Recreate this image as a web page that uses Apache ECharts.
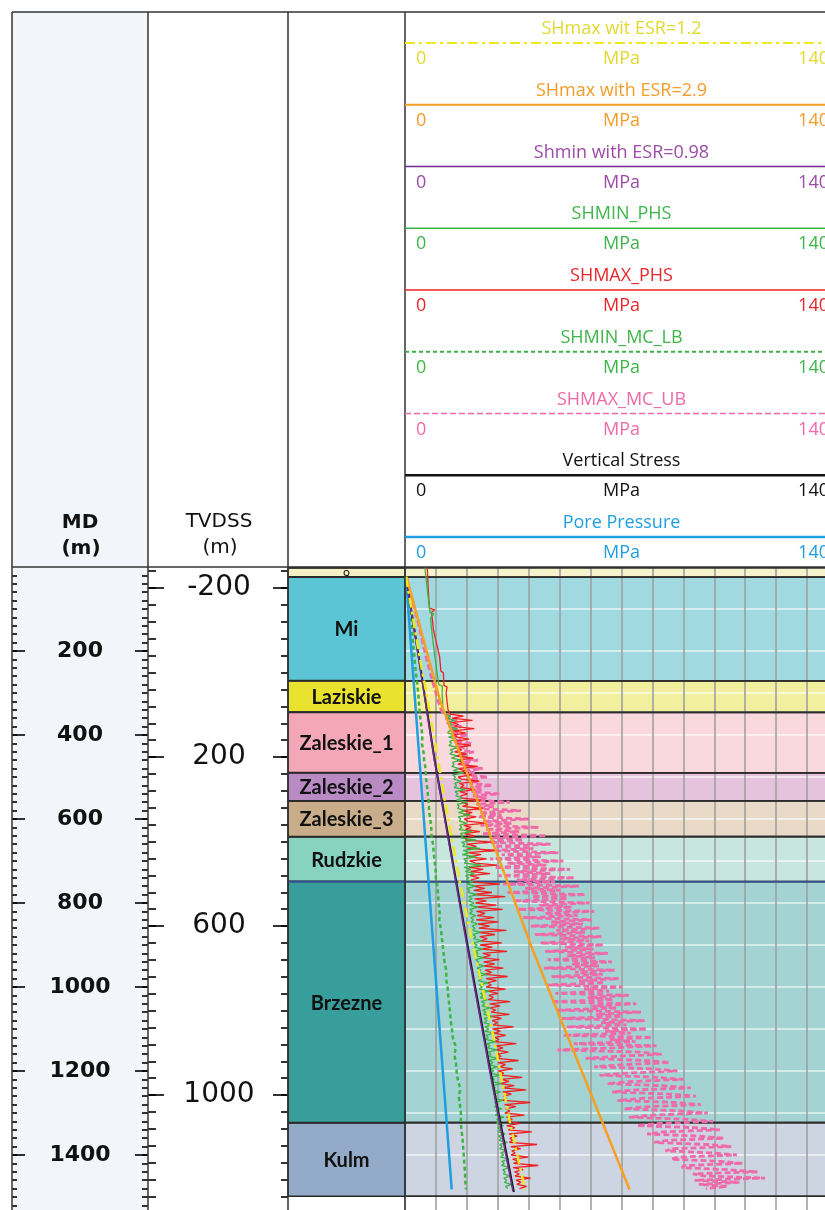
<!DOCTYPE html>
<html>
<head>
<meta charset="utf-8">
<script src="https://cdn.jsdelivr.net/npm/echarts@6/dist/echarts.min.js"></script>
<style>
  html, body { margin: 0; padding: 0; background: #ffffff; }
  #chart { width: 825px; height: 1210px; }
</style>
</head>
<body>
<div id="chart"></div>
<script>
// ---------- depth scales ----------
const MD_RANGE = [0, 1531];
const TVDSS_RANGE = [-250, 1272];
const MD_LABELS = [200, 400, 600, 800, 1000, 1200, 1400];
const TVDSS_LABELS = [-200, 200, 600, 1000];
const MD_MINOR_STEP = 20;
const TVDSS_MINOR_STEP = 40;

// ---------- formations (MD, m) ----------
const FORMATION_NAMES = ['Q', 'Mi', 'Laziskie', 'Zaleskie_1', 'Zaleskie_2', 'Zaleskie_3', 'Rudzkie', 'Brzezne', 'Kulm'];
const FORMATION_TOPS  = [2, 24, 271, 346, 490, 557, 642, 749, 1323];
const FORMATION_BASES = [24, 271, 346, 490, 557, 642, 749, 1323, 1498];

// ---------- stress track ----------
const STRESS_RANGE = [0, 140];
const STRESS_UNIT = 'MPa';
const CURVE_TITLES = ['SHmax wit ESR=1.2', 'SHmax with ESR=2.9', 'Shmin with ESR=0.98', 'SHMIN_PHS',
  'SHMAX_PHS', 'SHMIN_MC_LB', 'SHMAX_MC_UB', 'Vertical Stress', 'Pore Pressure'];

// smooth model curves: MD (m) / stress (MPa)
const SHMAX_ESR12_MD = [24, 221, 317, 555, 753, 904, 1126, 1325, 1482];
const SHMAX_ESR12    = [0.3, 4.9, 7.3, 12.9, 17.8, 22.1, 28.8, 34.0, 38.8];
const SHMAX_ESR29_MD = [24, 317, 912, 1482];
const SHMAX_ESR29    = [0.5, 11.3, 41.3, 72.6];
const SHMIN_ESR098_MD = [24, 221, 460, 912, 1200, 1486];
const SHMIN_ESR098    = [0.3, 4.5, 9.5, 20.3, 27.4, 34.9];
const SV_MD = [24, 221, 460, 912, 1200, 1488];
const SV    = [0.3, 4.6, 9.6, 20.5, 27.6, 35.2];
const PP_MD = [24, 700, 1482];
const PP    = [0.3, 7.1, 15.1];

// log curves above the logged interval
const SHMIN_PHS_TOP_MD = [0, 60, 108, 112, 120, 142, 211, 268, 280, 284, 300, 340];
const SHMIN_PHS_TOP    = [6.4, 7.3, 8.1, 9.4, 8.3, 8.5, 9.6, 10.7, 10.9, 12.1, 12.0, 12.3];
const SHMAX_PHS_TOP_MD = [0, 50, 98, 102, 108, 150, 214, 248, 252, 282, 286, 300, 340];
const SHMAX_PHS_TOP    = [7.2, 7.5, 7.9, 9.6, 8.6, 9.2, 11.2, 11.6, 12.4, 12.6, 13.6, 13.3, 13.9];
const SHMAX_MC_UB_TOP_MD = [24, 142, 221, 317, 342];
const SHMAX_MC_UB_TOP    = [0.4, 4.6, 7.0, 10.6, 11.8];

// logged interval, sampled every LOG_STEP m from LOG_TOP (one row = 100 m)
const LOG_TOP = 350, LOG_STEP = 5;
const SHMIN_PHS_LOG = [
  13.2, 14.8, 13.5, 16.1, 13.9, 15.2, 14.0, 17.0, 14.3, 13.8, 15.9, 14.1, 16.6, 14.4, 15.0, 14.2, 17.3, 14.7, 15.5, 14.5,
  16.8, 15.0, 18.2, 15.3, 15.9, 15.1, 17.4, 15.6, 19.0, 15.4, 16.3, 15.8, 18.1, 16.0, 16.7, 15.9, 19.4, 16.2, 17.1, 16.4,
  18.6, 16.7, 20.1, 16.9, 17.5, 17.0, 19.3, 17.3, 21.0, 17.2, 18.0, 17.6, 19.8, 17.7, 18.4, 17.5, 21.6, 17.9, 18.8, 18.0,
  22.9, 18.3, 19.4, 18.6, 24.2, 18.8, 20.7, 18.5, 23.0, 19.0, 19.8, 19.2, 24.6, 19.1, 21.3, 19.5, 22.4, 19.6, 20.6, 19.9,
  21.9, 20.1, 22.8, 20.0, 20.9, 20.4, 23.3, 20.6, 21.7, 20.5, 22.4, 20.9, 23.6, 21.0, 21.8, 20.8, 22.9, 21.3, 22.1, 21.4,
  23.4, 21.7, 22.6, 21.9, 24.3, 22.0, 22.9, 22.2, 24.8, 22.1, 23.3, 22.5, 25.0, 22.7, 23.6, 22.6, 25.4, 22.9, 23.8, 23.1,
  25.6, 23.3, 24.5, 23.5, 26.4, 23.8, 24.7, 23.7, 26.9, 24.1, 25.0, 24.0, 27.2, 24.4, 25.3, 24.3, 26.6, 24.7, 25.9, 24.9,
  27.5, 25.1, 26.2, 25.4, 28.3, 25.6, 26.5, 25.5, 28.0, 25.9, 27.1, 25.8, 28.8, 26.2, 26.9, 26.1, 29.3, 26.5, 27.4, 26.7,
  29.6, 26.9, 27.8, 27.1, 30.0, 27.3, 28.4, 27.2, 29.8, 27.6, 28.7, 27.5, 30.5, 27.9, 28.9, 27.8, 31.1, 28.2, 29.2, 28.4,
  30.9, 28.6, 29.5, 28.8, 31.6, 29.0, 29.9, 28.9, 31.3, 29.3, 30.2, 29.2, 32.0, 29.6, 30.5, 29.5, 31.8, 29.9, 30.8, 30.1,
  32.4, 30.3, 31.2, 30.5, 33.1, 30.7, 31.4, 30.6, 32.8, 31.0, 31.9, 30.9, 33.6, 31.3, 32.1, 31.2, 33.9, 31.6, 32.4, 31.8,
  34.1, 32.0, 32.9, 32.2, 34.4, 32.5, 33.2
];
const SHMAX_PHS_LOG = [
  14.6, 18.9, 15.2, 21.8, 15.0, 17.3, 16.1, 22.4, 15.5, 19.6, 15.8, 17.0, 20.7, 15.9, 16.6, 21.3, 16.2, 18.4, 16.0, 19.9,
  16.4, 22.1, 16.8, 18.7, 17.1, 23.5, 16.9, 19.5, 17.4, 21.6, 17.2, 18.3, 24.0, 17.6, 19.1, 17.9, 22.7, 17.7, 20.2, 18.1,
  18.0, 24.6, 18.3, 20.4, 18.6, 25.1, 18.4, 21.7, 18.9, 23.0, 19.2, 20.1, 26.0, 19.0, 21.4, 19.5, 24.2, 19.3, 22.5, 19.8,
  19.6, 27.8, 20.0, 23.1, 20.3, 29.2, 20.1, 24.6, 20.6, 26.4, 20.9, 22.8, 29.8, 20.7, 25.3, 21.2, 27.5, 21.0, 24.0, 21.4,
  21.6, 30.7, 21.9, 25.8, 22.2, 28.1, 22.0, 32.4, 22.5, 26.3, 22.8, 29.5, 22.6, 31.6, 23.1, 25.9, 23.3, 28.8, 23.0, 30.2,
  23.6, 27.4, 23.9, 32.8, 23.7, 29.1, 24.2, 26.6, 24.5, 31.3, 24.3, 28.2, 24.8, 33.0, 25.1, 27.7, 24.9, 30.5, 25.4, 29.0,
  25.6, 31.8, 25.9, 28.0, 25.7, 33.2, 26.2, 29.6, 26.5, 27.9, 26.3, 32.5, 26.8, 30.1, 27.1, 28.6, 26.9, 34.0, 27.4, 30.7,
  27.6, 29.3, 27.9, 33.8, 27.7, 31.2, 28.2, 29.9, 28.5, 35.1, 28.3, 30.8, 28.8, 32.6, 29.1, 30.4, 28.9, 36.0, 29.4, 31.7,
  29.6, 33.4, 29.9, 31.1, 29.7, 36.7, 30.2, 32.5, 30.5, 34.8, 30.3, 31.9, 30.8, 37.9, 31.1, 33.6, 30.9, 35.3, 31.4, 39.2,
  31.6, 34.4, 31.9, 32.7, 31.7, 40.5, 32.2, 35.8, 32.5, 33.9, 32.3, 38.6, 32.8, 34.7, 33.1, 37.2, 32.9, 35.5, 33.4, 41.0,
  33.6, 36.3, 33.9, 34.8, 33.7, 42.7, 34.2, 37.4, 34.5, 35.6, 34.3, 39.9, 34.8, 36.8, 35.1, 43.1, 34.9, 38.2, 35.4, 36.9,
  35.6, 40.6, 35.9, 37.5, 36.2, 39.3, 37.0
];
// Monte-Carlo upper bound of SHmax over the same samples
const SHMAX_MC_UB_LOG = [
  12.4, 14.6, 13.1, 16.8, 14.0, 13.6, 18.3, 14.9, 17.1, 15.2, 20.4, 15.8, 17.9, 16.1, 21.6, 16.5, 19.2, 17.0, 22.3, 17.4,
  19.8, 18.1, 23.6, 18.6, 21.0, 19.0, 25.1, 19.4, 22.4, 19.9, 26.8, 20.3, 23.5, 20.8, 28.2, 21.1, 24.7, 21.6, 30.5, 22.0,
  26.3, 22.4, 33.9, 23.1, 28.7, 22.8, 37.5, 24.0, 31.2, 23.6, 40.1, 25.2, 34.6, 24.4, 43.3, 26.0, 36.9, 25.1, 45.8, 27.4,
  38.2, 25.6, 47.1, 29.0, 41.5, 26.8, 49.6, 31.3, 43.9, 27.5, 51.2, 33.0, 45.7, 28.9, 53.4, 35.2, 47.0, 30.3, 54.8, 36.1,
  48.5, 31.7, 56.2, 38.9, 50.1, 33.2, 58.3, 41.0, 52.6, 34.9, 59.7, 43.4, 54.0, 36.5, 61.2, 45.1, 55.8, 38.2, 60.4, 47.3,
  57.5, 40.6, 62.8, 48.9, 58.2, 42.0, 63.5, 50.4, 59.6, 43.7, 64.2, 51.8, 60.9, 45.3, 65.6, 52.5, 61.4, 46.2, 66.9, 53.8,
  62.7, 44.9, 67.8, 55.0, 63.9, 47.4, 69.1, 56.3, 64.5, 46.3, 70.2, 57.9, 66.0, 48.6, 72.4, 59.1, 67.3, 47.2, 74.8, 60.6,
  68.5, 49.0, 76.3, 61.8, 70.1, 50.8, 77.5, 63.4, 71.6, 52.3, 78.2, 64.7, 73.0, 51.1, 79.9, 66.2, 74.5, 54.6, 81.3, 67.5,
  49.3, 75.8, 83.0, 68.9, 58.4, 77.4, 85.6, 70.3, 61.2, 79.7, 88.1, 72.0, 62.9, 81.5, 89.9, 73.6, 65.3, 83.2, 92.4, 75.1,
  67.0, 85.4, 94.1, 76.8, 68.7, 87.3, 95.7, 78.5, 70.8, 89.6, 97.9, 80.1, 72.4, 91.2, 99.6, 81.9, 75.0, 93.5, 101.8, 83.4,
  78.3, 95.1, 103.2, 85.0, 80.6, 97.4, 105.5, 86.9, 84.2, 99.0, 107.3, 88.6, 86.1, 101.6, 109.2, 90.4, 89.5, 104.3, 114.0, 93.1,
  96.8, 116.4, 93.6, 108.1, 95.0, 104.2, 97.3
];

// Monte-Carlo lower bound of Shmin, sampled every MCLB_STEP m
const MCLB_TOP = 22, MCLB_STEP = 20;
const SHMIN_MC_LB = [
  0.4, 0.7, 1.0, 1.3, 1.6, 1.9, 2.2, 2.4, 2.6, 2.9,
  3.1, 3.4, 3.7, 4.0, 4.3, 4.5, 4.7, 5.0, 5.3, 5.6,
  5.5, 6.0, 6.2, 6.7, 6.8, 7.1, 7.4, 7.7, 7.8, 8.2,
  8.5, 8.6, 9.1, 9.3, 9.6, 9.9, 10.0, 10.5, 10.7, 10.9,
  11.2, 11.1, 11.6, 11.9, 12.2, 12.5, 12.8, 13.4, 13.3, 13.8,
  14.0, 14.3, 14.6, 14.8, 15.2, 15.5, 16.4, 16.0, 16.5, 16.7,
  17.1, 17.9, 17.4, 17.8, 18.1, 18.0, 18.3, 18.6, 18.8, 19.0,
  19.2, 19.4, 19.5, 19.7
];

// ---------- styles ----------
const FORMATION_FILL = ['#f5f1c4', '#5cc5d5', '#e9e22f', '#f4a8b7', '#b98ac4', '#c9ac8a', '#88d2c0', '#389e9c', '#93aac8'];
const FORMATION_TINT = ['#f6f3cc', '#a1d9e1', '#f2ef9e', '#fad9de', '#e6c3dc', '#e9dac8', '#c6e6de', '#a3d3d3', '#cdd5e3'];
const BOUNDARY_COLOR = { 7: '#34508f' };
const CURVE_STYLE = [
  { line: '#eee81e', text: '#e0da2e', width: 2.5, dash: [10, 4, 3, 4], head: 2, z: 12 },
  { line: '#f6a023', text: '#f39c2a', width: 2.5, dash: 'solid', head: 2, z: 11 },
  { line: '#6f2c8c', text: '#9c4ca6', width: 1.6, dash: 'solid', head: 1.5, z: 10 },
  { line: '#3cb444', text: '#3db54a', width: 1.3, dash: 'solid', head: 1.5, z: 5 },
  { line: '#ee2222', text: '#e9262b', width: 1.3, dash: 'solid', head: 1.5, z: 4 },
  { line: '#3cb444', text: '#3db54a', width: 2.5, dash: [4, 3], head: 2, z: 6 },
  { line: '#ef6aa8', text: '#ee6aa7', width: 2.8, dash: [6, 3], head: 1.5, z: 3 },
  { line: '#141414', text: '#111111', width: 2, dash: 'solid', head: 2.5, z: 9 },
  { line: '#1f9ee0', text: '#1f9ee0', width: 2.5, dash: 'solid', head: 2.5, z: 8 }
];

// ---------- helpers ----------
const pairs = (depths, values) => values.map((v, i) => [v, depths[i]]);
const sampled = (top, step, values) => values.map((v, i) => [v, top + i * step]);
const steps = (from, to, step) => { const a = []; for (let v = from; v <= to; v += step) a.push(v); return a; };

const CURVE_DATA = [
  pairs(SHMAX_ESR12_MD, SHMAX_ESR12),
  pairs(SHMAX_ESR29_MD, SHMAX_ESR29),
  pairs(SHMIN_ESR098_MD, SHMIN_ESR098),
  pairs(SHMIN_PHS_TOP_MD, SHMIN_PHS_TOP).concat(sampled(LOG_TOP, LOG_STEP, SHMIN_PHS_LOG)),
  pairs(SHMAX_PHS_TOP_MD, SHMAX_PHS_TOP).concat(sampled(LOG_TOP, LOG_STEP, SHMAX_PHS_LOG)),
  sampled(MCLB_TOP, MCLB_STEP, SHMIN_MC_LB),
  pairs(SHMAX_MC_UB_TOP_MD, SHMAX_MC_UB_TOP).concat(sampled(LOG_TOP, LOG_STEP, SHMAX_MC_UB_LOG)),
  pairs(SV_MD, SV),
  pairs(PP_MD, PP)
];

const FORMATION_ROWS = FORMATION_NAMES.map((n, i) => [FORMATION_TOPS[i], FORMATION_BASES[i], i]);

// ---------- layout ----------
const TOP = 567, FRAME_TOP = 12, FRAME_LEFT = 12;
const COL_MD = [12, 148], COL_TVD = [148, 288], COL_FM = [288, 405], COL_ST = [405, 838];
const HEADER_ROW = 61.75;
const BORDER = '#333333';

const TICK_STYLE = { color: '#000000', width: 1.6 };
function depthAxis(grid, range, extra) {
  return Object.assign({
    type: 'value', gridIndex: grid, min: range[0], max: range[1], inverse: true,
    axisLine: { show: false }, axisLabel: { show: false }, axisTick: { show: false }, splitLine: { show: false }
  }, extra || {});
}
function tickAxis(grid, range, position, values, length) {
  return depthAxis(grid, range, {
    position: position,
    axisTick: { show: true, inside: true, length: length, customValues: values, lineStyle: TICK_STYLE }
  });
}
function labelAxis(grid, range, values, tickLen, margin, font) {
  return depthAxis(grid, range, {
    position: 'left',
    axisTick: { show: true, inside: true, length: tickLen, customValues: values, lineStyle: TICK_STYLE },
    axisLabel: Object.assign({
      show: true, inside: true, margin: margin, align: 'center', verticalAlign: 'middle',
      customValues: values, color: '#111', formatter: v => String(v)
    }, font)
  });
}

const MD_MINOR = steps(MD_MINOR_STEP, MD_RANGE[1], MD_MINOR_STEP);
const TVD_MINOR = steps(-240, TVDSS_RANGE[1], TVDSS_MINOR_STEP);

const gridBase = { top: TOP, bottom: 0, containLabel: false, outerBoundsMode: 'none', show: false };
const grids = [
  Object.assign({ left: COL_MD[0], width: COL_MD[1] - COL_MD[0] }, gridBase),
  Object.assign({ left: COL_TVD[0], width: COL_TVD[1] - COL_TVD[0] }, gridBase),
  Object.assign({ left: COL_FM[0], width: COL_FM[1] - COL_FM[0] }, gridBase),
  Object.assign({ left: COL_ST[0], width: COL_ST[1] - COL_ST[0] }, gridBase)
];

const xAxes = [
  { type: 'value', gridIndex: 0, min: 0, max: 1, show: false },
  { type: 'value', gridIndex: 1, min: 0, max: 1, show: false },
  { type: 'value', gridIndex: 2, min: 0, max: 1, show: false },
  {
    type: 'value', gridIndex: 3, min: STRESS_RANGE[0], max: STRESS_RANGE[1], interval: 10, z: 1,
    axisLine: { show: false }, axisTick: { show: false }, axisLabel: { show: false },
    splitLine: { show: true, lineStyle: { color: '#a0a0a0', width: 1.6 } }
  }
];

const yAxes = [
  labelAxis(0, MD_RANGE, MD_LABELS, 13, 68, { fontFamily: 'DejaVu Sans', fontWeight: 'bold', fontSize: 22 }),
  tickAxis(0, MD_RANGE, 'left', MD_MINOR, 5),
  tickAxis(0, MD_RANGE, 'right', MD_LABELS, 13),
  tickAxis(0, MD_RANGE, 'right', MD_MINOR, 6),
  labelAxis(1, TVDSS_RANGE, TVDSS_LABELS, 16, 71, { fontFamily: 'DejaVu Sans', fontSize: 28 }),
  tickAxis(1, TVDSS_RANGE, 'left', TVD_MINOR, 8),
  tickAxis(1, TVDSS_RANGE, 'right', TVDSS_LABELS, 15),
  tickAxis(1, TVDSS_RANGE, 'right', TVD_MINOR, 7),
  depthAxis(2, MD_RANGE, { position: 'left' }),
  depthAxis(3, MD_RANGE, {
    position: 'left', interval: 100, z: 1,
    splitLine: { show: true, lineStyle: { color: 'rgba(255,255,255,0.75)', width: 1.5 } }
  })
];

// ---------- series ----------
const formationColumn = {
  type: 'custom', xAxisIndex: 2, yAxisIndex: 8, z: 2, silent: true,
  data: FORMATION_ROWS,
  renderItem: (params, api) => {
    const idx = api.value(2);
    const p0 = api.coord([0, api.value(0)]);
    const p1 = api.coord([1, api.value(1)]);
    const small = FORMATION_NAMES[idx] === 'Q';
    const edge = BOUNDARY_COLOR[idx] || '#2a2a2a';
    return {
      type: 'group',
      children: [
        { type: 'rect', shape: { x: p0[0], y: p0[1], width: p1[0] - p0[0], height: p1[1] - p0[1] },
          style: { fill: FORMATION_FILL[idx], stroke: '#2a2a2a', lineWidth: 1.5 } },
        { type: 'line', shape: { x1: p0[0], y1: p0[1], x2: p1[0], y2: p0[1] },
          style: { stroke: edge, lineWidth: 2 } },
        { type: 'text', x: (p0[0] + p1[0]) / 2, y: (p0[1] + p1[1]) / 2 + 1,
          style: { text: FORMATION_NAMES[idx], fill: '#111', align: 'center', verticalAlign: 'middle',
                   font: small ? 'bold 8px Lato' : 'bold 20px Lato' } }
      ]
    };
  }
};

const stressBackground = {
  type: 'custom', xAxisIndex: 3, yAxisIndex: 9, z: 0, silent: true,
  data: FORMATION_ROWS,
  renderItem: (params, api) => {
    const idx = api.value(2);
    const p0 = api.coord([STRESS_RANGE[0], api.value(0)]);
    const p1 = api.coord([STRESS_RANGE[1], api.value(1)]);
    return { type: 'rect', shape: { x: p0[0], y: p0[1], width: p1[0] - p0[0], height: p1[1] - p0[1] },
             style: { fill: FORMATION_TINT[idx] } };
  }
};

const stressBoundaries = {
  type: 'custom', xAxisIndex: 3, yAxisIndex: 9, z: 2, silent: true,
  data: FORMATION_ROWS,
  renderItem: (params, api) => {
    const idx = api.value(2);
    const t0 = api.coord([STRESS_RANGE[0], api.value(0)]);
    const t1 = api.coord([STRESS_RANGE[1], api.value(0)]);
    const b0 = api.coord([STRESS_RANGE[0], api.value(1)]);
    const b1 = api.coord([STRESS_RANGE[1], api.value(1)]);
    return {
      type: 'group',
      children: [
        { type: 'line', shape: { x1: t0[0], y1: t0[1], x2: t1[0], y2: t1[1] },
          style: { stroke: BOUNDARY_COLOR[idx] || '#2e2e2e', lineWidth: 1.8 } },
        { type: 'line', shape: { x1: b0[0], y1: b0[1], x2: b1[0], y2: b1[1] },
          style: { stroke: '#2e2e2e', lineWidth: 1.8 } }
      ]
    };
  }
};

const curveSeries = CURVE_TITLES.map((name, i) => ({
  type: 'line', name: name, xAxisIndex: 3, yAxisIndex: 9, z: CURVE_STYLE[i].z,
  data: CURVE_DATA[i], showSymbol: false, symbol: 'none', silent: true, smooth: false,
  lineStyle: { color: CURVE_STYLE[i].line, width: CURVE_STYLE[i].width, type: CURVE_STYLE[i].dash }
}));

// ---------- frame and header ----------
const graphics = [];
graphics.push({ type: 'rect', z: -10, silent: true,
  shape: { x: COL_MD[0], y: FRAME_TOP, width: COL_MD[1] - COL_MD[0], height: 1210 - FRAME_TOP },
  style: { fill: '#f2f6fb' } });

const frameLine = (x1, y1, x2, y2, w) => ({ type: 'line', z: 60, silent: true,
  shape: { x1: x1, y1: y1, x2: x2, y2: y2 }, style: { stroke: BORDER, lineWidth: w || 1.5 } });
graphics.push(frameLine(FRAME_LEFT, FRAME_TOP, COL_ST[1], FRAME_TOP));
graphics.push(frameLine(FRAME_LEFT, TOP, COL_ST[1], TOP));
[COL_MD[0], COL_MD[1], COL_TVD[1], COL_FM[1]].forEach(x => graphics.push(frameLine(x, FRAME_TOP, x, 1210)));

const headText = (text, x, y, font, color, align) => ({ type: 'text', z: 60, silent: true, x: x, y: y,
  style: { text: text, font: font, fill: color, align: align || 'center', verticalAlign: 'middle' } });

graphics.push(headText('MD', 80, 523, 'bold 20px "DejaVu Sans"', '#111'));
graphics.push(headText('(m)', 81, 549, 'bold 20px "DejaVu Sans"', '#111'));
graphics.push(headText('TVDSS', 219, 522, '20px "DejaVu Sans"', '#111'));
graphics.push(headText('(m)', 220, 548, '20px "DejaVu Sans"', '#111'));

const trackMid = (COL_ST[0] + COL_ST[1]) / 2;
CURVE_TITLES.forEach((title, i) => {
  const s = CURVE_STYLE[i];
  const y0 = FRAME_TOP + i * HEADER_ROW;
  const font = '18px "Open Sans"';
  graphics.push(headText(title, trackMid, y0 + 17, font, s.text));
  graphics.push({ type: 'line', z: 60, silent: true,
    shape: { x1: COL_ST[0], y1: y0 + 31, x2: COL_ST[1], y2: y0 + 31 },
    style: { stroke: s.line, lineWidth: s.head, lineDash: s.dash === 'solid' ? null : s.dash } });
  graphics.push(headText(String(STRESS_RANGE[0]), COL_ST[0] + 11, y0 + 47, font, s.text, 'left'));
  graphics.push(headText(STRESS_UNIT, trackMid, y0 + 47, font, s.text));
  graphics.push(headText(String(STRESS_RANGE[1]), COL_ST[1] - 9, y0 + 47, font, s.text, 'right'));
});

// ---------- chart ----------
const chart = echarts.init(document.getElementById('chart'), null, { renderer: 'canvas' });
chart.setOption({
  animation: false,
  backgroundColor: '#ffffff',
  grid: grids,
  xAxis: xAxes,
  yAxis: yAxes,
  graphic: { elements: graphics },
  series: [stressBackground, stressBoundaries, formationColumn].concat(curveSeries)
});
</script>
</body>
</html>
